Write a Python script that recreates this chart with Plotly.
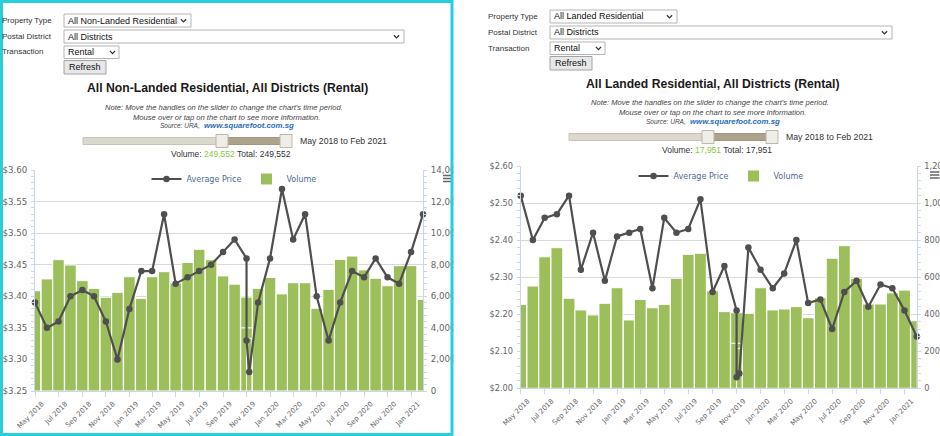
import plotly.graph_objects as go

W, H = 940, 436

# ---------------- data ----------------
months = ["2018-05-01", "2018-06-01", "2018-07-01", "2018-08-01", "2018-09-01", "2018-10-01",
          "2018-11-01", "2018-12-01", "2019-01-01", "2019-02-01", "2019-03-01", "2019-04-01",
          "2019-05-01", "2019-06-01", "2019-07-01", "2019-08-01", "2019-09-01", "2019-10-01",
          "2019-11-01", "2019-12-01", "2020-01-01", "2020-02-01", "2020-03-01", "2020-04-01",
          "2020-05-01", "2020-06-01", "2020-07-01", "2020-08-01", "2020-09-01", "2020-10-01",
          "2020-11-01", "2020-12-01", "2021-01-01", "2021-02-01"]
month_ticks = ["2018-05-01", "2018-07-01", "2018-09-01", "2018-11-01", "2019-01-01", "2019-03-01",
               "2019-05-01", "2019-07-01", "2019-09-01", "2019-11-01", "2020-01-01", "2020-03-01",
               "2020-05-01", "2020-07-01", "2020-09-01", "2020-11-01", "2021-01-01"]

# Left: All Non-Landed Residential
nl_price = [3.39, 3.35, 3.36, 3.40, 3.41, 3.40, 3.36, 3.30, 3.38, 3.44, 3.44, 3.53,
            3.42, 3.43, 3.44, 3.45, 3.47, 3.49, 3.46, 3.39, 3.46, 3.57, 3.49, 3.53,
            3.40, 3.33, 3.39, 3.44, 3.43, 3.46, 3.43, 3.42, 3.47, 3.53]
nl_volume = [6350, 7100, 8320, 7980, 6990, 6500, 5940, 6250, 7240, 5870, 7240, 7560,
             6840, 8140, 8980, 8320, 7290, 6770, 5950, 6500, 7190, 6150, 6860, 6860,
             5240, 6440, 8330, 8550, 7670, 7140, 6670, 7940, 7940, 5800]
nl_extra_dates = ["2019-11-01", "2019-11-08"]
nl_extra_price = [3.33, 3.28]
nl_extra_volume = [4000, 3340]
nl_price_ticks = [3.25, 3.30, 3.35, 3.40, 3.45, 3.50, 3.55, 3.60]
nl_price_labels = ["$3.25", "$3.30", "$3.35", "$3.40", "$3.45", "$3.50", "$3.55", "$3.60"]
nl_volume_ticks = [0, 2000, 4000, 6000, 8000, 10000, 12000, 14000]
nl_total = "249,552"

# Right: All Landed Residential
ld_price = [2.52, 2.40, 2.46, 2.47, 2.52, 2.32, 2.42, 2.29, 2.41, 2.42, 2.43, 2.27,
            2.46, 2.42, 2.43, 2.51, 2.26, 2.33, 2.21, 2.38, 2.32, 2.27, 2.31, 2.40,
            2.23, 2.24, 2.16, 2.26, 2.29, 2.22, 2.28, 2.27, 2.21, 2.14]
ld_volume = [453, 552, 710, 759, 486, 423, 396, 459, 543, 369, 480, 435,
             453, 594, 723, 729, 526, 414, 408, 405, 543, 423, 428, 441,
             381, 489, 702, 770, 592, 455, 455, 515, 530, 365]
ld_extra_dates = ["2019-11-01", "2019-11-08"]
ld_extra_price = [2.03, 2.04]
ld_extra_volume = [243, 216]
ld_price_ticks = [2.00, 2.10, 2.20, 2.30, 2.40, 2.50, 2.60]
ld_price_labels = ["$2.00", "$2.10", "$2.20", "$2.30", "$2.40", "$2.50", "$2.60"]
ld_volume_ticks = [0, 200, 400, 600, 800, 1000, 1200]
ld_total = "17,951"

# ---------------- styles ----------------
FORM_FONT = "Liberation Sans, Arial, sans-serif"
CHART_FONT = "DejaVu Sans, Verdana, sans-serif"
BAR_GREEN = "#9cbf5c"
LINE_GREY = "#4f4f4f"
AXIS_LINE = "#ccd6eb"
GRID = "#d9d9d9"
LABEL_GREY = "#666666"
LEGEND_TXT = "#4e6a91"
DAY_MS = 24 * 3600 * 1000

shapes, annots = [], []


def rect(x0, y0, x1, y1, fill="white", line="#b4b4b4", lw=1, layer="below"):
    shapes.append(dict(type="rect", xref="paper", yref="paper",
                       x0=x0 / W, x1=x1 / W, y0=1 - y1 / H, y1=1 - y0 / H,
                       fillcolor=fill, line=dict(color=line, width=lw), layer=layer))


def seg(x0, y0, x1, y1, color, lw=1.0, layer="above"):
    shapes.append(dict(type="line", xref="paper", yref="paper",
                       x0=x0 / W, x1=x1 / W, y0=1 - y0 / H, y1=1 - y1 / H,
                       line=dict(color=color, width=lw), layer=layer))


def chevron(cx, cy, color="#333"):
    d = (f"M {(cx - 2.6) / W},{1 - (cy - 1.3) / H} L {cx / W},{1 - (cy + 1.4) / H} "
         f"L {(cx + 2.6) / W},{1 - (cy - 1.3) / H}")
    shapes.append(dict(type="path", xref="paper", yref="paper", path=d,
                       line=dict(color=color, width=1.3), layer="above"))


def label(x, y, s, size, color="#333", anchor="left", family=FORM_FONT):
    annots.append(dict(xref="paper", yref="paper", x=x / W, y=1 - y / H, text=s,
                       showarrow=False, xanchor=anchor, yanchor="middle", borderpad=0,
                       font=dict(size=size, color=color, family=family)))


def panel(ox, oy, ptype, title, total, dd2_right):
    X = lambda v: v + ox
    Y = lambda v: v + oy
    label(X(1), Y(20.5), "Property Type", 8)
    label(X(1), Y(36.5), "Postal District", 8)
    label(X(1), Y(52), "Transaction", 8)
    rect(X(64), Y(14), X(191), Y(27))
    label(X(67), Y(20.5), ptype, 9, "#111")
    chevron(X(183.5), Y(20.5))
    rect(X(64), Y(30), X(dd2_right), Y(43))
    label(X(67), Y(36.5), "All Districts", 9, "#111")
    chevron(X(dd2_right - 7.5), Y(36.5))
    rect(X(64), Y(46), X(119), Y(58.5))
    label(X(67), Y(52.2), "Rental", 9, "#111")
    chevron(X(112.5), Y(52.2))
    rect(X(64), Y(60.5), X(106), Y(74), "#e7e7e7", "#a3a3a3")
    label(X(85), Y(67.3), "Refresh", 9, "#111", "center")
    label(X(227), Y(88), f"<b>{title}</b>", 12.2, "#1a1a1a", "center")
    label(X(224), Y(107), "<i>Note: Move the handles on the slider to change the chart's time period.</i>",
          7.6, "#444", "center")
    label(X(226), Y(117), "<i>Mouse over or tap on the chart to see more information.</i>",
          7.6, "#444", "center")
    label(X(200.5), Y(125), "<i>Source: URA,</i>", 6.5, "#444", "right")
    label(X(202.5), Y(125), "<b><i>www.squarefoot.com.sg</i></b>", 7.8, "#2d6cb5", "left")
    # slider
    rect(X(83), Y(137.5), X(290), Y(144.5), "#dcd8ce", "#c9c3b5")
    rect(X(228), Y(137.5), X(280), Y(144.5), "#aea48b", "#a0977e")
    rect(X(216), Y(134.5), X(228), Y(147.5), "#efede8", "#bdb7ab")
    rect(X(280), Y(134.5), X(292), Y(147.5), "#efede8", "#bdb7ab")
    label(X(299), Y(141), "May 2018 to Feb 2021", 8.7, "#333")
    label(X(231), Y(154),
          f'Volume: <span style="color:#8dc63f">{total}</span> Total: {total}', 8.5, "#333", "center")


panel(0, 0, "All Non-Landed Residential", "All Non-Landed Residential, All Districts (Rental)", nl_total, 404)
panel(486, -4, "All Landed Residential", "All Landed Residential, All Districts (Rental)", ld_total, 406)

# hamburger (export) icons
for y in (175.5, 178.5, 181.5):
    seg(443, y, 451, y, "#666", 1.5)
for y in (172, 175, 178):
    seg(930, y, 939.5, y, "#666", 1.5)


def merged(dates, vals, xd, xv):
    pairs = sorted(list(zip(dates, vals)) + list(zip(xd, xv)), key=lambda p: p[0])
    return [p[0] for p in pairs], [p[1] for p in pairs]


fig = go.Figure()

charts = [
    dict(price=nl_price, vol=nl_volume, xd=nl_extra_dates, xp=nl_extra_price, xv=nl_extra_volume,
         xa="x", ya_vol="y", ya_price="y2", legend="legend"),
    dict(price=ld_price, vol=ld_volume, xd=ld_extra_dates, xp=ld_extra_price, xv=ld_extra_volume,
         xa="x2", ya_vol="y3", ya_price="y4", legend="legend2"),
]
for c in charts:
    ld, lp = merged(months, c["price"], c["xd"], c["xp"])
    fig.add_trace(go.Scatter(x=ld, y=lp, name="Average Price", mode="lines+markers",
                             xaxis=c["xa"], yaxis=c["ya_price"], legend=c["legend"],
                             line=dict(color=LINE_GREY, width=2.2),
                             marker=dict(size=6.5, color=LINE_GREY), cliponaxis=False))
    fig.add_trace(go.Bar(x=months, y=c["vol"], name="Volume", xaxis=c["xa"], yaxis=c["ya_vol"],
                         legend=c["legend"], width=[30 * DAY_MS] * len(months), opacity=1,
                         marker=dict(color=BAR_GREEN, line=dict(color="white", width=1))))
    fig.add_trace(go.Bar(x=c["xd"], y=c["xv"], name="Volume", xaxis=c["xa"], yaxis=c["ya_vol"],
                         showlegend=False, width=[30 * DAY_MS, 14 * DAY_MS], opacity=1,
                         marker=dict(color=BAR_GREEN, line=dict(color="white", width=1))))


def xaxis_cfg(x0, x1, anchor):
    return dict(domain=[x0 / W, x1 / W], anchor=anchor, type="date", automargin=False,
                range=[months[0], months[-1]], tickvals=month_ticks, tickformat="%b %Y",
                tickangle=-45, ticklabelshift=7,
                tickfont=dict(size=7, color=LABEL_GREY, family=CHART_FONT),
                showline=True, linecolor=AXIS_LINE, ticks="outside", ticklen=5,
                tickcolor=AXIS_LINE, showgrid=False, zeroline=False, fixedrange=True)


def vol_axis(y0, y1, anchor, ticks, size):
    return dict(domain=[1 - y1 / H, 1 - y0 / H], anchor=anchor, side="right", automargin=False,
                range=[ticks[0], ticks[-1]], tickvals=ticks, tickformat=",",
                showgrid=True, gridcolor=GRID, gridwidth=1, zeroline=False,
                showline=True, linecolor=AXIS_LINE, ticks="", ticklabelstandoff=5,
                tickfont=dict(size=size, color=LABEL_GREY, family=CHART_FONT),
                minor=dict(ticks="outside", ticklen=3, tickcolor=AXIS_LINE, showgrid=False,
                           tickmode="linear", tick0=ticks[0], dtick=(ticks[1] - ticks[0]) / 5),
                fixedrange=True)


def price_axis(overlay, anchor, ticks, labels, size):
    return dict(overlaying=overlay, anchor=anchor, side="left", automargin=False,
                range=[ticks[0], ticks[-1]], tickvals=ticks, ticktext=labels,
                showgrid=False, zeroline=False, showline=True, linecolor=AXIS_LINE,
                ticks="", ticklabelstandoff=5,
                tickfont=dict(size=size, color=LABEL_GREY, family=CHART_FONT),
                minor=dict(ticks="outside", ticklen=3, tickcolor=AXIS_LINE, showgrid=False,
                           tickmode="linear", tick0=ticks[0], dtick=(ticks[1] - ticks[0]) / 5),
                fixedrange=True)


legend_common = dict(orientation="h", xanchor="center", yanchor="middle",
                     bgcolor="rgba(0,0,0,0)", traceorder="normal", itemwidth=30,
                     font=dict(size=8, color=LEGEND_TXT, family=CHART_FONT))

# white strip hiding overflow beyond left panel, then the cyan frame
rect(453.5, 150, 472, 436, "white", "white", 0, "above")
rect(1.5, 1.5, 452, 434.5, "rgba(0,0,0,0)", "#27cfdc", 3, "above")

fig.update_layout(
    width=W, height=H, margin=dict(l=0, r=0, t=0, b=0, pad=0, autoexpand=False),
    paper_bgcolor="white", plot_bgcolor="white",
    font=dict(family=CHART_FONT),
    barmode="overlay", showlegend=True,
    xaxis=xaxis_cfg(35, 423, "y"),
    yaxis=vol_axis(170, 391, "x", nl_volume_ticks, 8.7),
    yaxis2=price_axis("y", "x", nl_price_ticks, nl_price_labels, 8.7),
    xaxis2=xaxis_cfg(520.7, 916.7, "y3"),
    yaxis3=vol_axis(166, 388.3, "x2", ld_volume_ticks, 8.2),
    yaxis4=price_axis("y3", "x2", ld_price_ticks, ld_price_labels, 8.2),
    legend=dict(x=234 / W, y=1 - 179 / H, **legend_common),
    legend2=dict(x=721 / W, y=1 - 176 / H, **legend_common),
    shapes=shapes, annotations=annots,
)

fig.write_html("out.html", include_plotlyjs=True, config={"displayModeBar": False},
               post_script="document.body.style.margin='0px';"
                           "document.body.style.overflow='hidden';"
                           "document.documentElement.style.overflow='hidden';")
